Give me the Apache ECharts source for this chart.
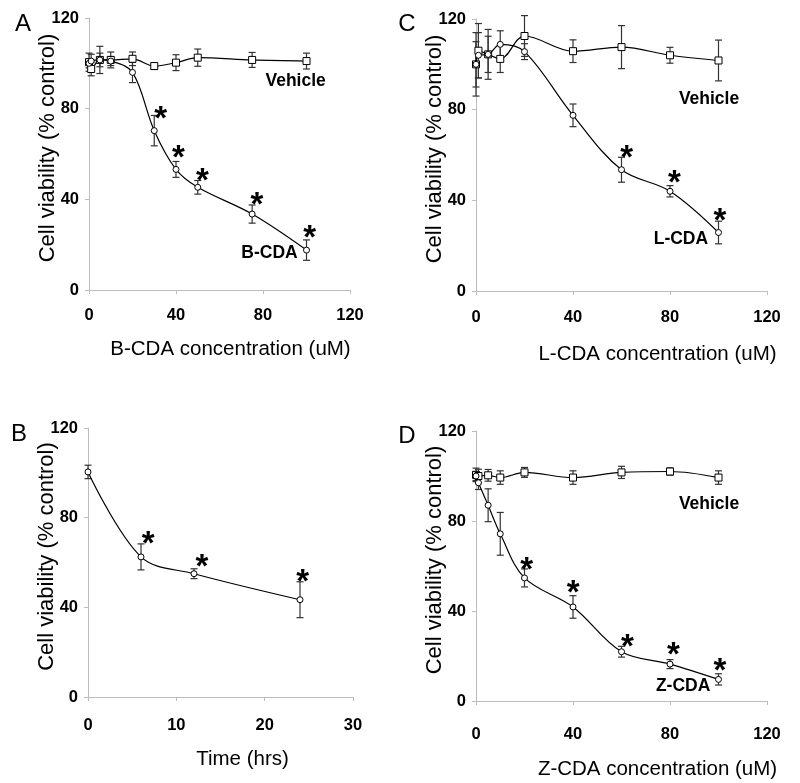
<!DOCTYPE html>
<html>
<head>
<meta charset="utf-8">
<script src="https://cdn.jsdelivr.net/npm/echarts@6/dist/echarts.min.js"></script>
<style>html,body{margin:0;padding:0;background:#fff}#c{width:800px;height:783px}</style>
</head>
<body>
<div id="c"></div>
<script>
// ---------- Data ----------
// Panel A: B-CDA concentration (uM)
const aX = [0, 1, 5, 10, 20, 30, 40, 50, 75, 100];
const aVehicle = [100.5, 97.5, 101.5, 101.5, 102, 98.8, 100.3, 102.5, 101.5, 101];
const aVehicleErr = [4, 3, 6, 3.5, 3, 1.5, 3.5, 3.8, 3.3, 3.5];
const aDrug = [100, 101, 101.5, 101, 96, 70.3, 53.2, 45.3, 33.5, 17.6];
const aDrugErr = [2, 3, 3, 2, 4.5, 6.7, 3.5, 3, 4, 4.5];
const aStarX = [32.9, 41.1, 52.1, 77.2, 101.5];
const aStarY = [78.5, 61.2, 51.2, 40.6, 26.1];

// Panel B: time course (hrs)
const bX = [0, 6, 12, 24];
const bDrug = [100.4, 62.5, 55, 43.4];
const bDrugErr = [3, 5.8, 2.2, 8];
const bStarX = [6.8, 12.9, 24.3];
const bStarY = [71.4, 61, 54.3];

// Panel C: L-CDA concentration (uM)
const cX = [0, 1, 5, 10, 20, 40, 60, 80, 100];
const cVehicle = [100, 106, 104.4, 102.4, 112.5, 105.8, 107.6, 104, 101.7];
const cVehicleErr = [14, 12, 11, 6, 9, 5, 9.5, 3.5, 9];
const cDrug = [100, 104, 104.4, 108.8, 105.6, 77.5, 53.5, 44, 25.8];
const cDrugErr = [10, 10, 8, 6, 3.5, 5, 5.5, 2.5, 5];
const cStarX = [62.1, 81.8, 100.6];
const cStarY = [61.6, 50.9, 34.2];

// Panel D: Z-CDA concentration (uM)
const dX = [0, 1, 5, 10, 20, 40, 60, 80, 100];
const dVehicle = [100.5, 100, 100.3, 99.3, 101.6, 99.3, 101.6, 102, 99.3];
const dVehicleErr = [3, 3, 2.6, 3, 2.2, 3, 2.7, 1.6, 3];
const dDrug = [100, 97, 87, 74.3, 54.7, 41.8, 21.9, 16.4, 9.6];
const dDrugErr = [2, 3, 7.3, 9.5, 4, 5, 2.4, 2, 2.5];
const dStarX = [20.9, 40.1, 62.4, 81.4, 100.6];
const dStarY = [61.3, 51, 27, 23.6, 16.7];

// Tick settings and text
const yMax = 120, yStep = 40;
const concMax = 120, concStep = 40;
const timeMax = 30, timeStep = 10;
const panelLetters = ['A', 'B', 'C', 'D'];
const xTitles = ['B-CDA concentration (uM)', 'Time (hrs)', 'L-CDA concentration (uM)', 'Z-CDA concentration (uM)'];
const yTitle = 'Cell viability (% control)';
const aNotesX = [95, 83], aNotesY = [92.2, 16.3], aNotesText = ['Vehicle', 'B-CDA'];
const cNotesX = [96.1, 84.5], cNotesY = [84.6, 22.9], cNotesText = ['Vehicle', 'L-CDA'];
const dNotesX = [96.1, 85.4], dNotesY = [87.6, 6.4], dNotesText = ['Vehicle', 'Z-CDA'];

// ---------- Layout / style ----------
const tickFont = "'Liberation Sans',Arial,sans-serif";
const textFont = "'Liberation Sans',Arial,sans-serif";
const axisGray = '#bdbdbd';

const grids = [
  {left: 89, top: 18, width: 261, height: 272},
  {left: 88, top: 428, width: 265, height: 269},
  {left: 476, top: 19, width: 291, height: 272},
  {left: 476, top: 431, width: 291, height: 270}
];
const xTitleShift = [11, 22, 36, 36];
const xTitleGap = [49, 52, 53, 58];
const xLabelMargin = [17, 19.5, 18, 24.5];

function xAxis(i, max, step) {
  return {
    gridIndex: i, type: 'value', min: 0, max: max, interval: step,
    name: xTitles[i], nameLocation: 'middle', nameGap: xTitleGap[i], nameMoveOverlap: false,
    nameTextStyle: {fontFamily: textFont, fontSize: 20.5, color: '#000', padding: [0, 0, 0, 2 * xTitleShift[i]]},
    axisLine: {lineStyle: {color: axisGray}},
    axisTick: {show: true, length: 4, lineStyle: {color: axisGray}},
    axisLabel: {fontFamily: tickFont, fontWeight: 'bold', fontSize: 16.5, color: '#000', margin: xLabelMargin[i]},
    splitLine: {show: false}
  };
}
function yAxis(i) {
  return {
    gridIndex: i, type: 'value', min: 0, max: yMax, interval: yStep,
    name: yTitle, nameLocation: 'middle', nameGap: 30, nameMoveOverlap: false,
    nameTextStyle: {fontFamily: textFont, fontSize: 22, color: '#000', padding: [0, 0, 0, 12]},
    axisLine: {show: true, lineStyle: {color: axisGray}},
    axisTick: {show: true, length: 4, lineStyle: {color: axisGray}},
    axisLabel: {fontFamily: tickFont, fontWeight: 'bold', fontSize: 16.5, color: '#000', margin: 10},
    splitLine: {show: false}
  };
}

function errSeries(i, xs, ys, es) {
  return {
    type: 'custom', xAxisIndex: i, yAxisIndex: i, silent: true, z: 2,
    encode: {x: 0, y: [1, 2]},
    data: xs.map((x, k) => [x, ys[k] - es[k], ys[k] + es[k]]),
    renderItem: function (params, api) {
      const lo = api.coord([api.value(0), api.value(1)]);
      const hi = api.coord([api.value(0), api.value(2)]);
      const w = 3.5;
      const st = {stroke: '#333', lineWidth: 1.2};
      return {type: 'group', children: [
        {type: 'line', shape: {x1: lo[0], y1: lo[1], x2: hi[0], y2: hi[1]}, style: st},
        {type: 'line', shape: {x1: lo[0] - w, y1: lo[1], x2: lo[0] + w, y2: lo[1]}, style: st},
        {type: 'line', shape: {x1: hi[0] - w, y1: hi[1], x2: hi[0] + w, y2: hi[1]}, style: st}
      ]};
    }
  };
}
function lineSeries(i, xs, ys, symbol, size) {
  return {
    type: 'line', xAxisIndex: i, yAxisIndex: i, z: 3, smooth: 0.35,
    data: xs.map((x, k) => [x, ys[k]]),
    symbol: symbol, symbolSize: size, showAllSymbol: true,
    lineStyle: {color: '#000', width: 1.2},
    itemStyle: {color: '#fff', borderColor: '#000', borderWidth: 1},
    emphasis: {disabled: true}
  };
}
function textSeries(i, xs, ys, texts, fontSize, dy) {
  return {
    type: 'custom', xAxisIndex: i, yAxisIndex: i, silent: true, z: 5,
    encode: {x: 0, y: 1},
    data: xs.map((x, k) => [x, ys[k], k]),
    renderItem: function (params, api) {
      const p = api.coord([api.value(0), api.value(1)]);
      const t = texts[api.value(2)];
      return {type: 'text', x: p[0], y: p[1] + dy, style: {
        text: t, fill: '#000', align: 'center', verticalAlign: 'middle',
        font: 'bold ' + fontSize + 'px ' + textFont
      }};
    }
  };
}
function starSeries(i, xs, ys) {
  return textSeries(i, xs, ys, xs.map(() => '*'), 33, 8);
}

const letterPos = [[23, 24], [19, 434], [407, 24], [407, 436]];

const option = {
  animation: false,
  backgroundColor: '#fff',
  grid: grids,
  xAxis: [xAxis(0, concMax, concStep), xAxis(1, timeMax, timeStep), xAxis(2, concMax, concStep), xAxis(3, concMax, concStep)],
  yAxis: [yAxis(0), yAxis(1), yAxis(2), yAxis(3)],
  graphic: panelLetters.map((t, k) => ({
    type: 'text', x: letterPos[k][0], y: letterPos[k][1],
    style: {text: t, font: '24px ' + textFont, fill: '#000', align: 'center', verticalAlign: 'middle'}
  })),
  series: [
    errSeries(0, aX, aVehicle, aVehicleErr), errSeries(0, aX, aDrug, aDrugErr),
    lineSeries(0, aX, aVehicle, 'rect', 7), lineSeries(0, aX, aDrug, 'circle', 6),
    starSeries(0, aStarX, aStarY), textSeries(0, aNotesX, aNotesY, aNotesText, 17.5, 0),

    errSeries(1, bX, bDrug, bDrugErr),
    lineSeries(1, bX, bDrug, 'circle', 6),
    starSeries(1, bStarX, bStarY),

    errSeries(2, cX, cVehicle, cVehicleErr), errSeries(2, cX, cDrug, cDrugErr),
    lineSeries(2, cX, cVehicle, 'rect', 7), lineSeries(2, cX, cDrug, 'circle', 6),
    starSeries(2, cStarX, cStarY), textSeries(2, cNotesX, cNotesY, cNotesText, 17.5, 0),

    errSeries(3, dX, dVehicle, dVehicleErr), errSeries(3, dX, dDrug, dDrugErr),
    lineSeries(3, dX, dVehicle, 'rect', 7), lineSeries(3, dX, dDrug, 'circle', 6),
    starSeries(3, dStarX, dStarY), textSeries(3, dNotesX, dNotesY, dNotesText, 17.5, 0)
  ]
};
const chart = echarts.init(document.getElementById('c'), null, {renderer: 'canvas'});
chart.setOption(option);
</script>
</body>
</html>
